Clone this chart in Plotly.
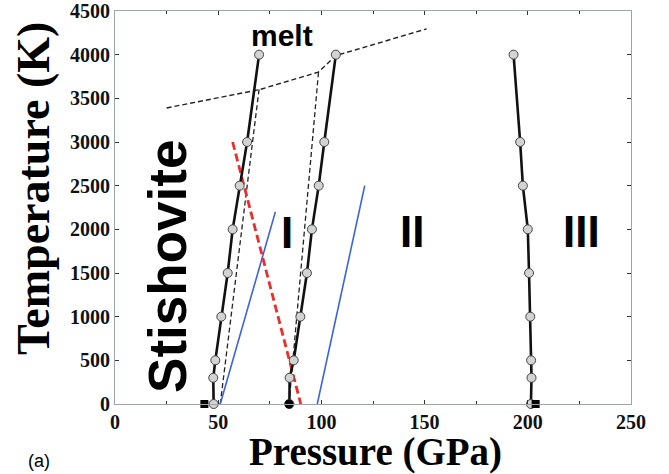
import plotly.graph_objects as go

# Temperatures of computed points (K)
T_pts = [0, 300, 500, 1000, 1500, 2000, 2500, 3000, 4000]
# Transition pressures (GPa)
P_stish_I = [47.8, 47.6, 48.6, 51.5, 54.6, 57.0, 60.4, 64.0, 69.8]
P_I_II = [84.5, 84.6, 86.6, 89.8, 93.0, 95.4, 98.7, 101.4, 107.0]
P_II_III = [201.5, 201.8, 201.6, 201.2, 200.6, 200.0, 197.6, 196.3, 193.1]

# Melting curve
melt_P = [25, 70, 98.5, 107, 151]
melt_T = [3390, 3600, 3800, 3990, 4295]

# Thin dashed boundaries
dash1_P = [51, 69.8]
dash1_T = [0, 3605]
dash2_P = [84.3, 98.6]
dash2_T = [0, 3800]

# Red dashed boundary
red_P = [57, 90]
red_T = [3000, 0]

# Blue boundaries
blue1_P = [51, 77.7]
blue1_T = [0, 2200]
blue2_P = [98, 121]
blue2_T = [0, 2500]

# Zero-temperature reference points
sq_P = [43.3, 203.8]
sq_T = [0, 0]
circ_P = [84.3]
circ_T = [0]

fig = go.Figure()

def line(x, y, color, width, dash="solid"):
    fig.add_trace(go.Scatter(x=x, y=y, mode="lines",
                             line=dict(color=color, width=width, dash=dash),
                             showlegend=False, cliponaxis=False, hoverinfo="skip"))

line(melt_P, melt_T, "#222222", 1.4, "5px,3px")
line(dash1_P, dash1_T, "#222222", 1.3, "5px,3px")
line(dash2_P, dash2_T, "#222222", 1.3, "5px,3px")
line(blue1_P, blue1_T, "#3b63e0", 1.6)
line(blue2_P, blue2_T, "#3b63e0", 1.6)
line(red_P, red_T, "#ee2c2c", 2.8, "8px,4px")

for P in (P_stish_I, P_I_II, P_II_III):
    fig.add_trace(go.Scatter(
        x=P, y=T_pts, mode="lines+markers",
        line=dict(color="#111111", width=2.6),
        marker=dict(size=9, color="#d2d4d4", line=dict(color="#444444", width=1)),
        showlegend=False, cliponaxis=False, hoverinfo="skip"))

fig.add_trace(go.Scatter(x=circ_P, y=circ_T, mode="markers",
                         marker=dict(size=9, color="#000000", symbol="circle"),
                         showlegend=False, cliponaxis=False))
fig.add_trace(go.Scatter(x=sq_P, y=sq_T, mode="markers",
                         marker=dict(size=8, color="#000000", symbol="square"),
                         showlegend=False, cliponaxis=False))

sans = "Liberation Sans"
serif = "Liberation Serif"

def txt(x, y, s, size, family=sans, angle=0, xref="x", yref="y", xanchor="center", weight="bold"):
    fig.add_annotation(x=x, y=y, xref=xref, yref=yref, text=s, showarrow=False,
                       textangle=angle, xanchor=xanchor, yanchor="middle",
                       font=dict(family=family, size=size, color="#000000", weight=weight))

txt(81, 4223, "melt", 30)
txt(83.5, 1961, "I", 44)
txt(144, 1973, "II", 44)
txt(225.8, 1973, "III", 44)
txt(25.4, 1575, "Stishovite", 53, angle=-90)
txt(-0.158, 0.548, "Temperature (K)", 46, family=serif, angle=-90, xref="paper", yref="paper")
txt(0.504, -0.122, "Pressure (GPa)", 39, family=serif, xref="paper", yref="paper")
txt(-0.172, -0.145, "(a)", 18, xref="paper", yref="paper", xanchor="left", weight="normal")

axis_common = dict(showline=True, mirror="ticks", linecolor="#9aa6ab", linewidth=1.2,
                   ticks="inside", ticklen=4, tickcolor="#333333", showgrid=False,
                   zeroline=False, automargin=False, ticklabeloverflow="allow",
                   tickfont=dict(family=serif, size=20, color="#111111", weight="bold"))

fig.update_xaxes(range=[0, 250], dtick=50, tick0=0,
                 minor=dict(dtick=25, ticks="inside", ticklen=3, tickcolor="#333333"),
                 **axis_common)
fig.update_yaxes(range=[0, 4500], dtick=500, tick0=0, **axis_common)

fig.update_layout(width=669, height=474,
                  margin=dict(l=115, r=38, t=11, b=70),
                  paper_bgcolor="white", plot_bgcolor="white")

fig.write_html("out.html", config={"displayModeBar": False},
               post_script="document.body.style.margin='0';document.body.style.overflow='hidden';")
